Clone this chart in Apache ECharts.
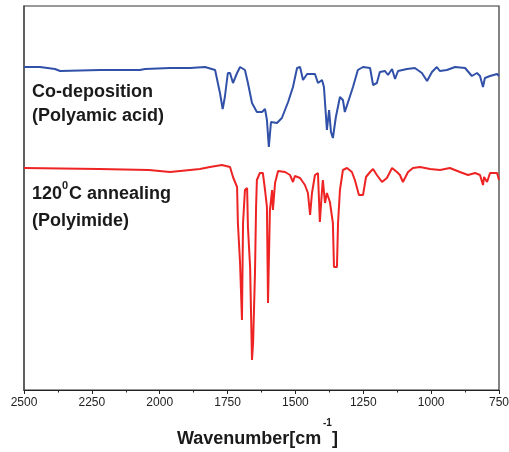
<!DOCTYPE html>
<html><head><meta charset="utf-8">
<script src="https://cdn.jsdelivr.net/npm/echarts@6/dist/echarts.min.js"></script>
<style>html,body{margin:0;padding:0;background:#fff}#c{width:509px;height:452px}</style>
</head><body><div id="c"></div>
<script>
// Wavenumber (cm^-1) and transmittance (arbitrary units, offset traces)
const blueWave = [2500,2441,2386,2367,2220,2150,2073,2054,1962,1888,1833,1796,1778,1768,1760,1749,1741,1730,1715,1704,1686,1675,1660,1642,1623,1612,1605,1598,1590,1583,1568,1550,1527,1509,1494,1483,1472,1457,1428,1417,1402,1395,1384,1376,1369,1362,1351,1336,1325,1318,1306,1288,1270,1251,1225,1214,1200,1189,1170,1159,1144,1133,1122,1089,1060,1034,1015,997,979,968,942,912,875,850,831,820,809,802,783,757,750];
const blueVal  = [323,323,321,319,320,320,320,321,322,322,323,320,297,281,293,317,317,307,317,323,320,307,287,278,278,281,270,243,268,270,267,272,288,303,322,323,310,316,316,307,310,303,260,280,258,252,273,293,290,278,288,303,320,323,322,305,307,318,319,315,321,311,319,321,322,317,309,318,323,319,320,323,322,314,317,314,303,312,314,316,314];
const redWave  = [2500,2224,2040,1962,1888,1852,1815,1771,1741,1730,1715,1712,1704,1697,1693,1686,1678,1675,1667,1660,1656,1649,1645,1642,1631,1620,1612,1605,1601,1594,1586,1583,1575,1564,1538,1520,1509,1502,1483,1465,1454,1446,1439,1428,1417,1410,1402,1399,1391,1384,1373,1362,1358,1347,1343,1336,1325,1310,1292,1281,1266,1251,1240,1225,1214,1200,1181,1163,1144,1126,1115,1104,1085,1067,1041,1004,967,931,894,864,838,820,809,805,794,783,757,750];
const redVal   = [222,221,220,218,220,221,223,225,223,213,203,167,127,70,167,200,202,163,123,30,47,117,183,210,217,217,200,183,87,180,200,180,207,219,218,215,208,214,212,205,197,175,197,215,217,168,200,210,187,197,188,167,123,123,167,200,220,222,218,210,195,195,213,218,221,215,208,212,222,218,215,208,218,222,223,221,220,222,218,215,217,215,205,213,208,217,217,210];
const xTicks = [2500,2250,2000,1750,1500,1250,1000,750];

const bluePts = blueWave.map((w,i)=>[w, blueVal[i]]);
const redPts = redWave.map((w,i)=>[w, redVal[i]]);

const chart = echarts.init(document.getElementById('c'), null, {renderer:'canvas'});
const F = '"Liberation Sans", Arial, sans-serif';
const txt = (t, left, top, size) => ({type:'text', left, top, style:{text:t, font:'bold '+size+'px '+F, fill:'#1a1a1a'}});
chart.setOption({
  animation:false,
  grid:{left:24, right:10, top:6, bottom:62, show:true, borderColor:'#333', borderWidth:1.2, containLabel:false, outerBoundsMode:'none'},
  xAxis:{type:'value', inverse:true, min:750, max:2500, interval:250,
    axisLine:{lineStyle:{color:'#222', width:1.2}},
    axisTick:{show:true, length:4, lineStyle:{color:'#222'}},
    minorTick:{show:true, splitNumber:2, length:2.5, lineStyle:{color:'#222'}},
    splitLine:{show:false},
    axisLabel:{color:'#222', fontSize:12, fontFamily:F, margin:7,
      formatter:v=> xTicks.includes(v) ? String(v) : ''}
  },
  yAxis:{type:'value', min:0, max:384, axisLine:{show:true, lineStyle:{color:'#555', width:1.5}},
    axisTick:{show:false}, axisLabel:{show:false}, splitLine:{show:false}},
  series:[
    {type:'line', data:bluePts, showSymbol:false, lineStyle:{color:'#3150a8', width:2}},
    {type:'line', data:redPts, showSymbol:false, lineStyle:{color:'#ee2424', width:2}}
  ],
  graphic:[
    txt('Co-deposition', 32, 83, 18),
    txt('(Polyamic acid)', 32, 107, 18),
    txt('120', 32, 185, 18),
    txt('0', 62, 180, 11),
    txt('C annealing', 69, 185, 18),
    txt('(Polyimide)', 32, 212, 18),
    txt('Wavenumber[cm', 177, 430, 18),
    txt('-1', 323, 418, 10),
    txt(']', 332, 430, 18)
  ]
});
</script></body></html>
